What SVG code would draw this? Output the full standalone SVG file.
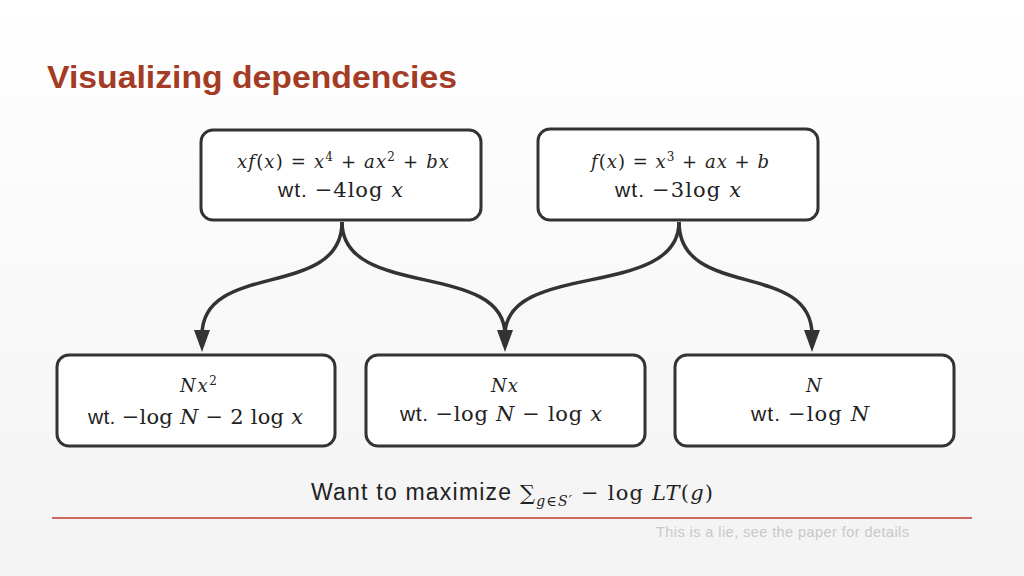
<svg xmlns="http://www.w3.org/2000/svg" width="1024" height="576" viewBox="0 0 1024 576">
<defs>
<linearGradient id="bg" x1="0" y1="0" x2="0" y2="1"><stop offset="0" stop-color="#ffffff"/><stop offset="1" stop-color="#f3f3f3"/></linearGradient>
<style>
.box{fill:#fff;stroke:#333;stroke-width:3}
.m{font-family:"DejaVu Serif","Liberation Serif",serif;font-style:italic;fill:#222}
.r{font-style:normal}
.s{font-family:"Liberation Sans",Arial,sans-serif;font-style:normal;fill:#222}
.c{fill:none;stroke:#333;stroke-width:3.5}
.ah{fill:#333}
</style>
</defs>
<rect width="1024" height="576" fill="url(#bg)"/>
<text x="47" y="88" font-family="Liberation Sans,Arial,sans-serif" font-weight="bold" font-size="31" fill="#a33b25" textLength="410" lengthAdjust="spacingAndGlyphs">Visualizing dependencies</text>
<g id="connectors">
<path class="c" d="M342,222 C342,300 202,260 202,335"/>
<path class="c" d="M342,222 C342,300 505,260 505,335"/>
<path class="c" d="M679,222 C679,300 505,260 505,335"/>
<path class="c" d="M679,222 C679,300 812,260 812,335"/>
<path class="ah" d="M194,330 L210,330 L202,352 Z"/>
<path class="ah" d="M497,330 L513,330 L505,352 Z"/>
<path class="ah" d="M804,330 L820,330 L812,352 Z"/>
</g>
<g id="n1"><rect class="box" x="201" y="130" width="280" height="90" rx="12"/>
<text class="m" x="237" y="168" font-size="18" textLength="212">xf<tspan class="r">(</tspan>x<tspan class="r">) = </tspan>x<tspan class="r" font-size="12" dy="-7">4</tspan><tspan class="r" dy="7"> + </tspan>ax<tspan class="r" font-size="12" dy="-7">2</tspan><tspan class="r" dy="7"> + </tspan>bx</text>
<text class="m" x="278" y="197" font-size="21" textLength="125"><tspan class="s">wt. </tspan><tspan class="r">−4log </tspan>x</text></g>
<g id="n2"><rect class="box" x="538" y="129" width="280" height="91" rx="12"/>
<text class="m" x="591" y="168" font-size="18" textLength="178">f<tspan class="r">(</tspan>x<tspan class="r">) = </tspan>x<tspan class="r" font-size="12" dy="-7">3</tspan><tspan class="r" dy="7"> + </tspan>ax<tspan class="r"> + </tspan>b</text>
<text class="m" x="615" y="197" font-size="21" textLength="126"><tspan class="s">wt. </tspan><tspan class="r">−3log </tspan>x</text></g>
<g id="n3"><rect class="box" x="57" y="355" width="278" height="91" rx="12"/>
<text class="m" x="180" y="392" font-size="18" textLength="37">Nx<tspan class="r" font-size="12" dy="-7">2</tspan></text>
<text class="m" x="88" y="424" font-size="21" textLength="215"><tspan class="s">wt. </tspan><tspan class="r">−log </tspan>N<tspan class="r"> − 2 log </tspan>x</text></g>
<g id="n4"><rect class="box" x="366" y="355" width="279" height="91" rx="12"/>
<text class="m" x="491" y="392" font-size="18" textLength="27">Nx</text>
<text class="m" x="400" y="421" font-size="21" textLength="202"><tspan class="s">wt. </tspan><tspan class="r">−log </tspan>N<tspan class="r"> − log </tspan>x</text></g>
<g id="n5"><rect class="box" x="675" y="355" width="279" height="91" rx="12"/>
<text class="m" x="806" y="392" font-size="18">N</text>
<text class="m" x="751" y="421" font-size="21" textLength="118"><tspan class="s">wt. </tspan><tspan class="r">−log </tspan>N</text></g>
<text class="m" x="311" y="500" font-size="21" textLength="402"><tspan class="s" font-size="23">Want to maximize </tspan><tspan class="r">∑</tspan><tspan font-size="14" dy="6">g<tspan class="r">∈</tspan>S′</tspan><tspan class="r" dy="-6"> − log </tspan>LT<tspan class="r">(</tspan>g<tspan class="r">)</tspan></text>
<line x1="52" y1="518" x2="972" y2="518" stroke="#c0392b" stroke-width="1.5"/>
<text x="656" y="537" font-family="Liberation Sans,Arial,sans-serif" font-size="14.5" fill="#c8c8c8" textLength="253">This is a lie, see the paper for details</text>
</svg>
